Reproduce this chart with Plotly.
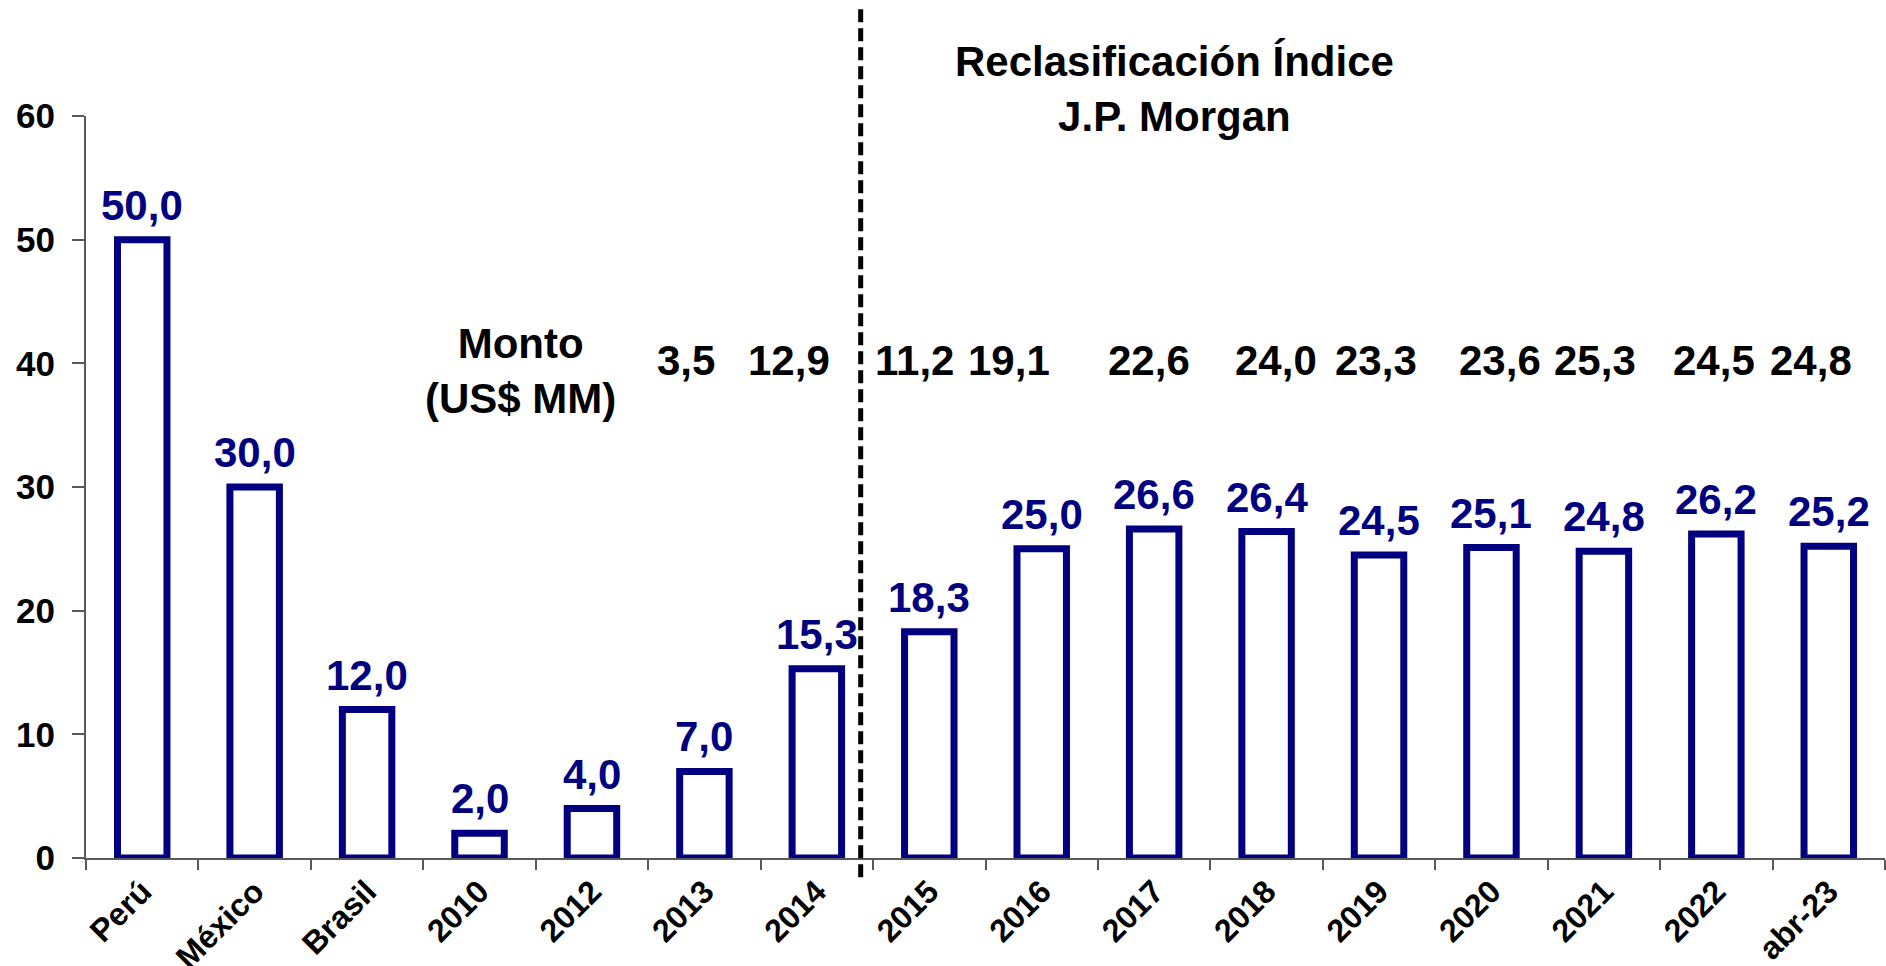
import plotly.graph_objects as go

# datos
categorias = ["Perú", "México", "Brasil", "2010", "2012", "2013", "2014", "2015",
              "2016", "2017", "2018", "2019", "2020", "2021", "2022", "abr-23"]
valores = [50.0, 30.0, 12.0, 2.0, 4.0, 7.0, 15.3, 18.3,
           25.0, 26.6, 26.4, 24.5, 25.1, 24.8, 26.2, 25.2]

# monto (US$ MM), desde 2013
cat_monto = ["2013", "2014", "2015", "2016", "2017", "2018", "2019", "2020", "2021", "2022", "abr-23"]
monto = [3.5, 12.9, 11.2, 19.1, 22.6, 24.0, 23.3, 23.6, 25.3, 24.5, 24.8]

AZUL = "#000080"
FUENTE = "Liberation Sans, Arial, sans-serif"


def fmt(v):
    return f"{v:.1f}".replace(".", ",")


fig = go.Figure()

fig.add_trace(go.Bar(
    x=categorias,
    y=valores,
    width=0.44,
    marker=dict(color="white", line=dict(color=AZUL, width=7)),
    cliponaxis=False,
    hoverinfo="x+y",
))

# etiquetas de valor sobre cada barra
for i, v in enumerate(valores):
    fig.add_annotation(x=i, y=v, text=fmt(v), showarrow=False, yanchor="bottom", yshift=9,
                       font=dict(family=FUENTE, size=42, color=AZUL, weight="bold"))

# fila de montos (posicion por indice de categoria)
ajuste_x = [-18, -28, -15, -33, -5, 9, -3, 9, -9, -2, -18]
for c, m, dx in zip(cat_monto, monto, ajuste_x):
    fig.add_annotation(x=categorias.index(c), y=40.2, text=fmt(m), showarrow=False, xshift=dx,
                       font=dict(family=FUENTE, size=42, color="black", weight="bold"))

fig.add_annotation(x=3.36, y=39.4, text="Monto<br>(US$ MM)", showarrow=False,
                   font=dict(family=FUENTE, size=42, color="black", weight="bold"))
fig.add_annotation(x=9.18, yref="paper", y=1.037, yanchor="middle",
                   text="Reclasificación Índice<br>J.P. Morgan", showarrow=False,
                   font=dict(family=FUENTE, size=42, color="black", weight="bold"))

# línea divisoria
fig.add_shape(type="line", xref="x", yref="paper", x0=6.39, x1=6.39, y0=-0.026, y1=1.15,
              line=dict(color="black", width=5, dash="13px,6px"))

fig.update_layout(
    width=1886, height=966,
    margin=dict(l=86, r=1, t=116, b=108, autoexpand=False),
    paper_bgcolor="white", plot_bgcolor="white",
    showlegend=False,
    font=dict(family=FUENTE, color="black"),
)
fig.update_xaxes(
    type="category", categoryorder="array", categoryarray=categorias,
    range=[-0.5, len(categorias) - 0.5], automargin=False,
    showline=True, linecolor="#595959", linewidth=2,
    ticks="outside", tickson="boundaries", ticklen=10, tickcolor="#595959", tickwidth=2,
    tickangle=-45,
    tickfont=dict(family=FUENTE, size=32, color="black", weight="bold"),
    showgrid=False, zeroline=False,
)
fig.update_yaxes(
    range=[0, 60], dtick=10, automargin=False,
    showline=True, linecolor="#595959", linewidth=2,
    ticks="outside", ticklen=12, tickcolor="#595959", tickwidth=2,
    tickfont=dict(family=FUENTE, size=35, color="black", weight="bold"),
    ticklabelstandoff=10,
    showgrid=False, zeroline=False,
)

fig.write_html("out.html", config={"displayModeBar": False},
               post_script="document.body.style.margin='0';")
